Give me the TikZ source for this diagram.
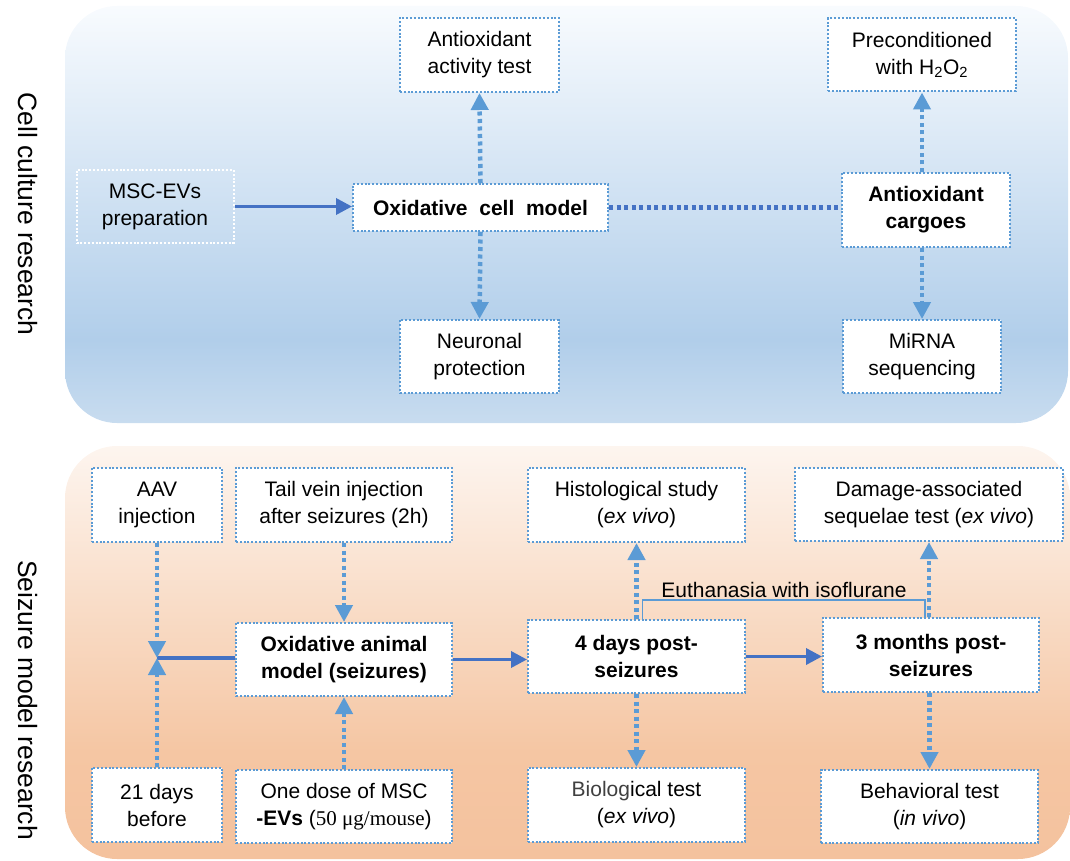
\documentclass[tikz,border=0pt]{standalone}
\usepackage{fontspec}
\setmainfont{Liberation Sans}
\newfontfamily\serifnum{Liberation Serif}
\usetikzlibrary{arrows.meta,calc}
\definecolor{pb1}{HTML}{C8DCEF}
\definecolor{pb2}{HTML}{B1CEEA}
\definecolor{pb3}{HTML}{F8FBFE}
\definecolor{po1}{HTML}{F4C29E}
\definecolor{po2}{HTML}{F5C6A3}
\definecolor{po3}{HTML}{FDF5EF}
\definecolor{lblue}{HTML}{5B9BD5}
\definecolor{dblue}{HTML}{4472C4}
\pgfdeclareverticalshading{bluepanel}{100bp}{color(0bp)=(pb1); color(25bp)=(pb1); color(35bp)=(pb2); color(75bp)=(pb3); color(100bp)=(pb3)}
\pgfdeclareverticalshading{orangepanel}{100bp}{color(0bp)=(po1); color(25bp)=(po1); color(38bp)=(po2); color(75bp)=(po3); color(100bp)=(po3)}
\tikzset{
  box/.style={draw=lblue, fill=white, line width=2pt, dash pattern=on 2pt off 1.8pt,
    align=center, inner sep=0pt, font=\fontsize{21}{27}\selectfont},
  wbox/.style={box, draw=white, fill=none},
  solidarrow/.style={draw=dblue, line width=3.5pt, -{Triangle[length=16pt,width=16pt]}},
  solidline/.style={draw=dblue, line width=3.5pt},
  dotarrow/.style={draw=lblue, line width=4.5pt, dash pattern=on 4pt off 3.5pt, -{Triangle[length=17pt,width=17pt]}},
  dotline/.style={draw=dblue, line width=4.5pt, dash pattern=on 4pt off 3.5pt},
  sidelabel/.style={rotate=-90, font=\fontsize{26.5}{30}\selectfont},
}
\begin{document}
\begin{tikzpicture}[x=1pt,y=-1pt]
\useasboundingbox (0,0) rectangle (1070,861);
% panels
\path[shading=bluepanel, rounded corners=52pt] (65,6) rectangle (1068,423);
\path[shading=orangepanel, rounded corners=52pt] (65,446) rectangle (1070,859);
% side labels
\node[sidelabel] (lab1) at (28,214) {Cell culture research};
\node[sidelabel] (lab2) at (28,700) {Seizure model research};
% top nodes
\node[wbox, minimum width=157, minimum height=73] (msc) at (155,206.5) {MSC-EVs\\preparation};
\node[box, minimum width=255, minimum height=47] (ocm) at (480.5,207.5) {\bfseries Oxidative\ \ cell\ \ model};
\node[box, minimum width=159, minimum height=74] (aat) at (479.5,55) {Antioxidant\\activity test};
\node[box, minimum width=159, minimum height=73] (np) at (479.5,356.5) {Neuronal\\protection};
\node[box, minimum width=188, minimum height=73] (ph) at (922,55) {Preconditioned\\with H\textsubscript{2}O\textsubscript{2}};
\node[box, minimum width=168, minimum height=74] (ac) at (926,210) {\bfseries Antioxidant\\\bfseries cargoes};
\node[box, minimum width=158, minimum height=73] (mir) at (922,356.5) {MiRNA\\sequencing};
% top connectors
\draw[solidarrow] (msc.east) -- (msc.east -| ocm.west);
\draw[dotline] (ocm.east) -- (ocm.east -| ac.west);
\draw[dotarrow] (ocm.north) -- (aat.south);
\draw[dotarrow] (ocm.south) -- (np.north);
\draw[dotarrow] (ac.north -| ph.south) -- (ph.south);
\draw[dotarrow] (ac.south -| mir.north) -- (mir.north);
% bottom nodes
\node[box, minimum width=130, minimum height=74] (aav) at (157,505) {AAV\\injection};
\node[box, minimum width=216, minimum height=74] (tail) at (344,505) {Tail vein injection\\after seizures (2h)};
\node[box, minimum width=216, minimum height=73] (oam) at (344,659.5) {\bfseries Oxidative animal\\\bfseries model (seizures)};
\node[box, minimum width=130, minimum height=74] (d21) at (157,805) {21 days\\before};
\node[box, minimum width=216, minimum height=73] (dose) at (344,806.5) {One dose of MSC\\\textbf{-EVs} ({\serifnum 50 μg/mouse})};
\node[box, minimum width=217, minimum height=74] (hist) at (636.5,505) {Histological study\\(\textit{ex vivo})};
\node[box, minimum width=217, minimum height=73] (d4) at (636.5,656.5) {\bfseries 4 days post-\\\bfseries seizures};
\node[box, minimum width=217, minimum height=74] (bio) at (636.5,805) {\textcolor[HTML]{404040}{Biolog}ical test\\(\textit{ex vivo})};
\node[box, minimum width=268, minimum height=73] (dmg) at (929,504.5) {Damage-associated\\sequelae test (\textit{ex vivo})};
\node[box, minimum width=216, minimum height=74] (m3) at (931,655) {\bfseries 3 months post-\\\bfseries seizures};
\node[box, minimum width=217, minimum height=73] (beh) at (929.5,806.5) {Behavioral test\\(\textit{in vivo})};
\coordinate (j) at (157,658);
% bottom connectors
\draw[solidline] (oam.west |- j) -- (j);
\draw[dotarrow] (aav.south) -- (j);
\draw[dotarrow] (d21.north) -- (j);
\draw[dotarrow] (tail.south) -- (oam.north);
\draw[dotarrow] (dose.north) -- (oam.south);
\draw[solidarrow] (oam.east) -- (oam.east -| d4.west);
\draw[solidarrow] (d4.east) -- (d4.east -| m3.west);
\draw[dotarrow] (d4.north) -- (hist.south);
\draw[dotarrow] (d4.south) -- (bio.north);
\draw[dotarrow] (m3.north -| dmg.south) -- (dmg.south);
\draw[dotarrow] (m3.south -| beh.north) -- (beh.north);
% euthanasia bracket
\draw[lblue, line width=1.2pt] ([xshift=6pt]d4.north) -- ++(0,-19) coordinate (bl) -| ([xshift=-6pt]m3.north);
\node[font=\fontsize{21}{27}\selectfont, anchor=base] (eut) at (784,597) {Euthanasia with isoflurane};
\end{tikzpicture}
\end{document}
